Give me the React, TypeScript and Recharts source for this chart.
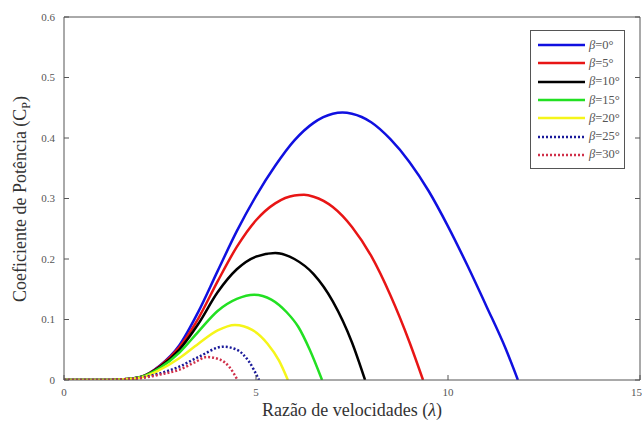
// Curvas Cp(λ) para distintos ángulos de pitch β — estilo figura MATLAB.
import { LineChart, Line, XAxis, YAxis, Legend } from 'recharts'

type Pt = { lambda: number; cp: number }
const pts = (rows: number[][]): Pt[] => rows.map(([lambda, cp]) => ({ lambda, cp }))

const xTicks = [0, 5, 10, 15]
const yTicks = [0, 0.1, 0.2, 0.3, 0.4, 0.5, 0.6]

const beta0 = pts([
  [0, 0], [1, 0], [1.5, 0.001], [2, 0.005], [2.5, 0.024], [3, 0.057], [3.5, 0.113],
  [4, 0.18], [4.5, 0.246], [5, 0.304], [5.5, 0.354], [6, 0.396], [6.5, 0.425],
  [7, 0.44], [7.25, 0.442], [7.5, 0.44], [8, 0.426], [8.5, 0.398], [9, 0.36],
  [9.5, 0.312], [10, 0.254], [10.5, 0.19], [11, 0.122], [11.5, 0.052], [11.82, 0],
])
const beta5 = pts([
  [0, 0], [1, 0], [1.5, 0.001], [2, 0.005], [2.5, 0.023], [3, 0.054], [3.5, 0.102],
  [4, 0.163], [4.5, 0.22], [5, 0.264], [5.5, 0.292], [6, 0.305], [6.25, 0.306],
  [6.5, 0.303], [7, 0.286], [7.5, 0.253], [8, 0.205], [8.5, 0.14], [9, 0.062], [9.35, 0],
])
const beta10 = pts([
  [0, 0], [1, 0], [1.5, 0.001], [2, 0.005], [2.5, 0.022], [3, 0.05], [3.5, 0.093],
  [4, 0.145], [4.5, 0.183], [5, 0.204], [5.5, 0.21], [6, 0.2], [6.5, 0.175],
  [7, 0.13], [7.5, 0.062], [7.84, 0],
])
const beta15 = pts([
  [0, 0], [1, 0], [1.5, 0.001], [2, 0.005], [2.5, 0.02], [3, 0.045], [3.5, 0.08],
  [4, 0.114], [4.5, 0.134], [4.95, 0.141], [5.4, 0.133], [5.8, 0.112], [6.1, 0.088],
  [6.4, 0.05], [6.72, 0],
])
const beta20 = pts([
  [0, 0], [1, 0], [1.5, 0.001], [2, 0.004], [2.5, 0.017], [3, 0.036], [3.5, 0.06],
  [4, 0.082], [4.45, 0.091], [4.9, 0.083], [5.3, 0.06], [5.6, 0.032], [5.83, 0],
])
const beta25 = pts([
  [0, 0], [1, 0], [1.5, 0.001], [2, 0.004], [2.5, 0.011], [3, 0.022], [3.5, 0.038],
  [4.15, 0.055], [4.5, 0.05], [4.8, 0.032], [5.08, 0],
])
const beta30 = pts([
  [0, 0], [1, 0], [1.5, 0.001], [2, 0.003], [2.5, 0.009], [3, 0.017], [3.4, 0.029],
  [3.72, 0.038], [4.05, 0.034], [4.3, 0.022], [4.52, 0],
])

const series = [
  { key: 'b0', label: '0', data: beta0, color: '#1010e0', dash: undefined },
  { key: 'b5', label: '5', data: beta5, color: '#e81515', dash: undefined },
  { key: 'b10', label: '10', data: beta10, color: '#000000', dash: undefined },
  { key: 'b15', label: '15', data: beta15, color: '#22e022', dash: undefined },
  { key: 'b20', label: '20', data: beta20, color: '#f5f51a', dash: undefined },
  { key: 'b25', label: '25', data: beta25, color: '#1a1a9a', dash: '2 2' },
  { key: 'b30', label: '30', data: beta30, color: '#d0304a', dash: '2 2' },
]

const FONT = '"Liberation Serif", "Times New Roman", serif'
const AXIS = '#555555'

function CajaLeyenda() {
  return (
    <div
      style={{
        border: '1px solid #555',
        background: '#fff',
        padding: '5px 0 4px 7px',
        width: 95,
        boxSizing: 'border-box',
        fontFamily: FONT,
        fontSize: 12.5,
        color: '#555',
      }}
    >
      {series.map((s) => (
        <div key={s.key} style={{ display: 'flex', alignItems: 'center', height: 18.3 }}>
          <svg width={48} height={6} style={{ marginRight: 3 }}>
            <line
              x1={0}
              y1={3}
              x2={47}
              y2={3}
              stroke={s.color}
              strokeWidth={2.5}
              strokeDasharray={s.dash}
            />
          </svg>
          <span>
            <i>β</i>={s.label}°
          </span>
        </div>
      ))}
    </div>
  )
}

export default function App() {
  return (
    <div style={{ position: 'absolute', left: 0, top: 0, background: '#fff' }}>
      <LineChart width={642} height={425} margin={{ top: 16, right: 0, bottom: 0, left: 0 }}>
        <XAxis
          dataKey="lambda"
          type="number"
          domain={[0, 15]}
          ticks={xTicks}
          allowDataOverflow
          height={45}
          stroke={AXIS}
          tickSize={-5}
          tickMargin={13}
          tick={{ fill: '#555', fontSize: 11, fontFamily: FONT }}
          label={{
            content: () => (
              <text x={352} y={416} textAnchor="middle" fontFamily={FONT} fontSize={18} fill="#333">
                Razão de velocidades (<tspan fontStyle="italic">λ</tspan>)
              </text>
            ),
          }}
        />
        <XAxis
          xAxisId="top"
          orientation="top"
          type="number"
          domain={[0, 15]}
          ticks={xTicks}
          allowDataOverflow
          height={1}
          stroke={AXIS}
          tickSize={-5}
          tickFormatter={() => ''}
        />
        <YAxis
          type="number"
          domain={[0, 0.6]}
          ticks={yTicks}
          allowDataOverflow
          width={64}
          stroke={AXIS}
          tickSize={-5}
          tickMargin={14}
          tick={{ fill: '#555', fontSize: 11, fontFamily: FONT }}
          label={{
            content: () => (
              <text
                x={26}
                y={199}
                transform="rotate(-90 26 199)"
                textAnchor="middle"
                fontFamily={FONT}
                fontSize={18}
                fill="#333"
              >
                Coeficiente de Potência (C
                <tspan fontSize={12} dy={4}>P</tspan>
                <tspan dy={-4}>)</tspan>
              </text>
            ),
          }}
        />
        <YAxis
          yAxisId="right"
          orientation="right"
          type="number"
          domain={[0, 0.6]}
          ticks={yTicks}
          allowDataOverflow
          width={2}
          stroke={AXIS}
          tickSize={-5}
          tickFormatter={() => ''}
        />
        {series.map((s) => (
          <Line
            key={s.key}
            data={s.data}
            dataKey="cp"
            type="monotone"
            stroke={s.color}
            strokeWidth={2.5}
            strokeDasharray={s.dash}
            dot={false}
            isAnimationActive={false}
          />
        ))}
        <Legend
          layout="vertical"
          align="center"
          verticalAlign="middle"
          wrapperStyle={{ left: 530, top: 30, width: 95 }}
          content={() => <CajaLeyenda />}
        />
      </LineChart>
    </div>
  )
}
